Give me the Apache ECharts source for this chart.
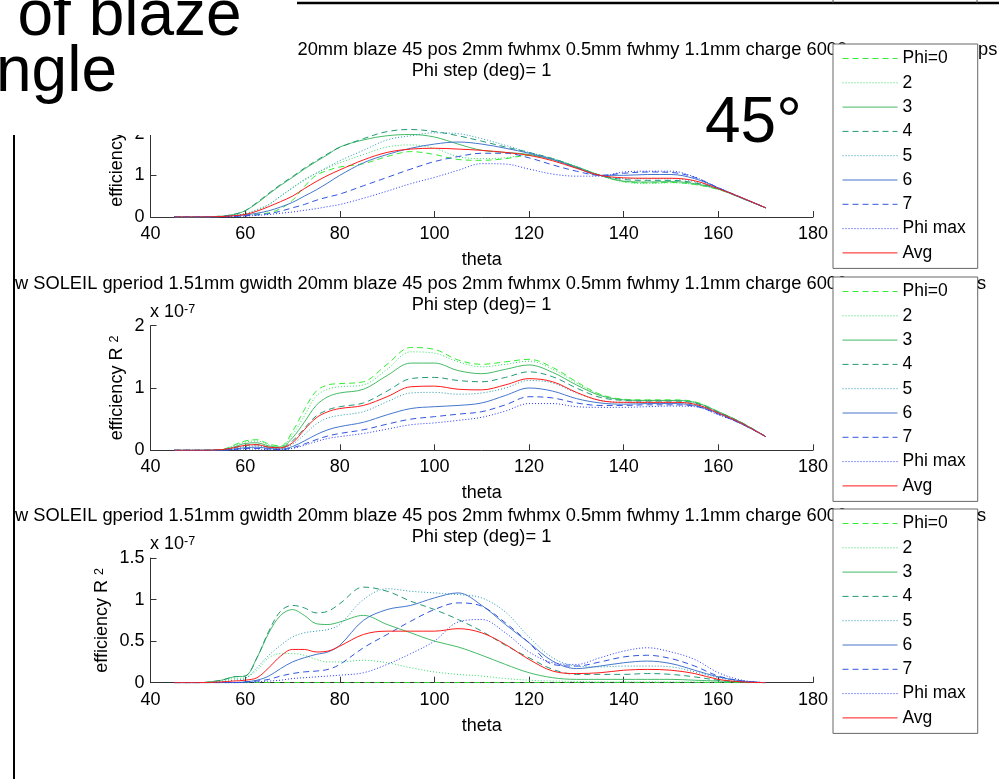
<!DOCTYPE html>
<html><head><meta charset="utf-8">
<script src="https://cdn.jsdelivr.net/npm/echarts@6/dist/echarts.min.js"></script>
<style>html,body{margin:0;padding:0;background:#fff}#c{width:999px;height:779px}</style>
</head><body><div id="c"></div>
<script>
// ---------- data ----------
const theta = [45,50,55,57.5,60,62.5,65,67.5,70,72.5,75,77.5,80,85,90,95,100,105,110,115,120,125,130,135,140,145,150,155,160,165,170];
const seriesNames = ['Phi=0','2','3','4','5','6','7','Phi max','Avg'];
const xTickMin = 40, xTickMax = 180, xTickStep = 20;
const yMaxes = [3, 2, 1.5];
const ySteps = [1, 1, 0.5];

// plot 1 (efficiency, x 1e-7)
const p1_phi0 = [0,0,0.01,0.03,0.05,0.07,0.1,0.2,0.4,0.73,1.0,1.12,1.2,1.28,1.45,1.57,1.5,1.38,1.36,1.4,1.48,1.38,1.2,1.0,0.85,0.82,0.83,0.78,0.66,0.45,0.22];
const p1_2    = [0,0,0.01,0.04,0.08,0.15,0.3,0.5,0.7,0.9,1.05,1.18,1.3,1.5,1.68,1.73,1.65,1.45,1.4,1.42,1.5,1.4,1.22,1.0,0.84,0.8,0.82,0.78,0.66,0.45,0.22];
const p1_3    = [0,0,0.02,0.06,0.15,0.33,0.55,0.76,0.95,1.15,1.33,1.5,1.68,1.85,1.95,1.98,1.92,1.75,1.6,1.55,1.5,1.38,1.2,1.0,0.86,0.84,0.85,0.8,0.67,0.45,0.22];
const p1_4    = [0,0,0.02,0.06,0.15,0.35,0.57,0.78,0.97,1.17,1.35,1.52,1.67,1.88,2.05,2.1,2.05,1.95,1.82,1.68,1.55,1.4,1.2,1.0,0.9,0.88,0.88,0.82,0.68,0.45,0.22];
const p1_5    = [0,0,0.01,0.04,0.08,0.18,0.3,0.5,0.7,0.88,1.05,1.2,1.35,1.6,1.85,1.95,2.02,2.0,1.88,1.72,1.55,1.4,1.2,1.0,0.92,0.92,0.92,0.85,0.68,0.45,0.22];
const p1_6    = [0,0,0.01,0.03,0.05,0.09,0.15,0.24,0.35,0.5,0.65,0.82,1.0,1.3,1.5,1.65,1.75,1.8,1.75,1.65,1.53,1.38,1.18,1.0,1.0,1.02,1.02,0.92,0.7,0.46,0.22];
const p1_7    = [0,0,0,0.01,0.03,0.05,0.08,0.14,0.22,0.3,0.4,0.48,0.55,0.75,0.95,1.15,1.33,1.45,1.53,1.53,1.42,1.25,1.1,1.0,1.05,1.08,1.07,0.95,0.7,0.46,0.22];
const p1_max  = [0,0,0,0.01,0.02,0.04,0.06,0.09,0.12,0.16,0.2,0.25,0.3,0.45,0.62,0.8,0.95,1.12,1.28,1.27,1.15,1.03,0.98,0.98,1.08,1.1,1.1,0.96,0.7,0.46,0.22];
const p1_avg  = [0,0,0.01,0.03,0.06,0.14,0.25,0.37,0.5,0.68,0.85,1.0,1.13,1.37,1.55,1.63,1.65,1.63,1.6,1.55,1.48,1.35,1.17,1.0,0.94,0.93,0.93,0.87,0.68,0.46,0.22];

// plot 2
const p2_phi0 = [0,0,0.01,0.08,0.15,0.17,0.1,0.07,0.3,0.65,0.95,1.05,1.07,1.1,1.38,1.65,1.62,1.45,1.38,1.42,1.46,1.33,1.1,0.9,0.82,0.81,0.81,0.78,0.62,0.44,0.22];
const p2_2    = [0,0,0.01,0.07,0.13,0.15,0.09,0.06,0.25,0.55,0.87,0.98,1.02,1.05,1.3,1.58,1.56,1.42,1.34,1.38,1.43,1.3,1.08,0.89,0.81,0.8,0.8,0.77,0.62,0.44,0.22];
const p2_3    = [0,0,0.01,0.05,0.11,0.12,0.07,0.05,0.2,0.45,0.72,0.86,0.92,0.98,1.2,1.4,1.4,1.28,1.23,1.3,1.37,1.25,1.05,0.88,0.81,0.8,0.8,0.77,0.62,0.44,0.22];
const p2_4    = [0,0,0.01,0.04,0.08,0.09,0.05,0.04,0.15,0.35,0.55,0.65,0.7,0.76,0.95,1.15,1.17,1.12,1.1,1.17,1.26,1.18,1.0,0.85,0.8,0.79,0.79,0.76,0.61,0.44,0.22];
const p2_5    = [0,0,0,0.03,0.06,0.07,0.04,0.03,0.1,0.25,0.42,0.52,0.56,0.62,0.78,0.92,0.93,0.9,0.92,1.0,1.12,1.08,0.92,0.8,0.77,0.77,0.77,0.74,0.6,0.43,0.22];
const p2_6    = [0,0,0,0.02,0.04,0.05,0.03,0.02,0.06,0.15,0.25,0.33,0.38,0.45,0.57,0.67,0.7,0.72,0.76,0.88,1.0,0.95,0.83,0.76,0.74,0.75,0.75,0.72,0.59,0.42,0.22];
const p2_7    = [0,0,0,0.01,0.03,0.03,0.02,0.01,0.04,0.1,0.17,0.23,0.27,0.33,0.42,0.5,0.54,0.58,0.62,0.73,0.86,0.84,0.76,0.72,0.72,0.73,0.73,0.71,0.58,0.42,0.22];
const p2_max  = [0,0,0,0.01,0.02,0.02,0.01,0.01,0.03,0.08,0.14,0.19,0.22,0.27,0.34,0.41,0.44,0.48,0.53,0.63,0.75,0.75,0.7,0.69,0.69,0.7,0.71,0.7,0.57,0.42,0.22];
const p2_avg  = [0,0,0.01,0.04,0.08,0.09,0.05,0.04,0.12,0.33,0.52,0.62,0.67,0.72,0.86,1.02,1.03,0.98,0.97,1.05,1.15,1.1,0.93,0.8,0.77,0.77,0.77,0.74,0.6,0.43,0.22];

// plot 3
const p3_phi0 = [0,0,0,0,0,0,0,0,0,0,0,0,0,0,0,0,0,0,0,0,0,0,0,0,0,0,0,0,0,0,0];
const p3_2    = [0,0,0.02,0.05,0.06,0.15,0.3,0.35,0.35,0.33,0.28,0.25,0.25,0.27,0.24,0.18,0.13,0.1,0.08,0.05,0.03,0.02,0.015,0.01,0.01,0.01,0.01,0.01,0.005,0,0];
const p3_3    = [0,0,0.03,0.07,0.08,0.3,0.6,0.81,0.88,0.81,0.71,0.7,0.73,0.81,0.7,0.6,0.5,0.43,0.33,0.22,0.12,0.06,0.04,0.04,0.04,0.04,0.04,0.03,0.02,0.01,0];
const p3_4    = [0,0,0.03,0.07,0.08,0.3,0.62,0.86,0.93,0.9,0.84,0.86,0.95,1.15,1.1,0.98,0.88,0.76,0.62,0.45,0.3,0.16,0.1,0.1,0.1,0.11,0.1,0.07,0.03,0.01,0];
const p3_5    = [0,0,0.01,0.03,0.05,0.18,0.33,0.45,0.55,0.6,0.62,0.64,0.7,1.0,1.13,1.1,1.08,1.06,1.02,0.85,0.55,0.3,0.2,0.19,0.2,0.2,0.19,0.13,0.06,0.02,0];
const p3_6    = [0,0,0,0,0.01,0.03,0.08,0.17,0.25,0.3,0.34,0.37,0.45,0.75,0.88,0.93,1.02,1.08,0.93,0.7,0.48,0.26,0.17,0.2,0.24,0.26,0.23,0.15,0.07,0.02,0];
const p3_7    = [0,0,0,0,0.01,0.02,0.04,0.08,0.11,0.13,0.14,0.16,0.22,0.42,0.58,0.74,0.88,0.96,0.92,0.72,0.48,0.22,0.2,0.25,0.31,0.33,0.29,0.2,0.08,0.02,0];
const p3_max  = [0,0,0,0,0,0.01,0.02,0.03,0.05,0.06,0.07,0.08,0.09,0.12,0.22,0.35,0.5,0.73,0.76,0.6,0.37,0.24,0.22,0.3,0.38,0.42,0.37,0.28,0.12,0.03,0];
const p3_avg  = [0,0,0.01,0.02,0.03,0.06,0.18,0.32,0.4,0.4,0.37,0.38,0.44,0.58,0.62,0.62,0.62,0.65,0.6,0.46,0.28,0.14,0.11,0.12,0.15,0.16,0.15,0.11,0.04,0.01,0];

const plots = [
  [p1_phi0,p1_2,p1_3,p1_4,p1_5,p1_6,p1_7,p1_max,p1_avg],
  [p2_phi0,p2_2,p2_3,p2_4,p2_5,p2_6,p2_7,p2_max,p2_avg],
  [p3_phi0,p3_2,p3_3,p3_4,p3_5,p3_6,p3_7,p3_max,p3_avg]
];

const titleMain = 'w SOLEIL gperiod 1.51mm gwidth 20mm blaze 45 pos 2mm fwhmx 0.5mm fwhmy 1.1mm charge 6000';
const titleSub = 'Phi step (deg)= 1';
const titleTails = ['ps', 's', 's'];
const slideLine1 = 'of blaze';
const slideLine2 = 'ngle';
const slideAngle = '45°';

// ---------- styles / layout ----------
const FONT = 'Liberation Sans, Arial, Helvetica, sans-serif';
const DASH = [6, 4], DOT = [1, 2];
const styles = [
  {c:'#33ee33', t:DASH},
  {c:'#33dd66', t:DOT},
  {c:'#44bb66', t:'solid'},
  {c:'#229977', t:DASH},
  {c:'#2299aa', t:DOT},
  {c:'#4477cc', t:'solid'},
  {c:'#3355dd', t:DASH},
  {c:'#2233ff', t:DOT},
  {c:'#ff1a1a', t:'solid'}
];
const gridTops = [92, 325.7, 558];
const gridHeights = [125, 124.6, 124.7];
const legendTops = [44, 277, 509];
const yNameGaps = [24, 24, 39];
const AX = '#333';

const option = {
  animation: false,
  backgroundColor: '#fff',
  title: [], grid: [], xAxis: [], yAxis: [], legend: [], series: [], graphic: []
};

const legendData = seriesNames.map((n, k) => ({
  name: n,
  lineStyle: {color: styles[k].c, type: styles[k].t, width: 1, opacity: 1},
  itemStyle: {opacity: 0}
}));

for (let p = 0; p < 3; p++) {
  const top = gridTops[p];
  option.grid.push({left: 150.5, width: 662.5, top: top, height: gridHeights[p], containLabel: false});
  option.title.push({text: titleMain, left: 15, top: top - 51, padding: 0,
    textStyle: {fontSize: 18.3, fontWeight: 'normal', color: '#000', fontFamily: FONT}});
  option.title.push({text: titleSub, left: 481.5, top: top - 30, padding: 0, textAlign: 'center',
    textStyle: {fontSize: 18.3, fontWeight: 'normal', color: '#000', fontFamily: FONT}});
  option.xAxis.push({
    gridIndex: p, type: 'value', min: xTickMin, max: xTickMax, interval: xTickStep,
    axisLine: {show: true, onZero: false, lineStyle: {color: AX, width: 1}},
    axisTick: {show: true, inside: true, length: 6, lineStyle: {color: AX}},
    axisLabel: {color: '#000', fontSize: 18, fontFamily: FONT, margin: 8},
    splitLine: {show: false},
    name: 'theta', nameLocation: 'middle', nameGap: 34, nameMoveOverlap: false,
    nameTextStyle: {color: '#000', fontSize: 18, fontFamily: FONT}
  });
  option.yAxis.push({
    gridIndex: p, type: 'value', min: 0, max: yMaxes[p], interval: ySteps[p],
    axisLine: {show: true, onZero: false, lineStyle: {color: AX, width: 1}},
    axisTick: {show: true, inside: true, length: 6, lineStyle: {color: AX}},
    axisLabel: {color: '#000', fontSize: 18, fontFamily: FONT, margin: 6},
    splitLine: {show: false},
    name: '{m|efficiency R }{s|2}', nameLocation: 'middle', nameGap: yNameGaps[p], nameMoveOverlap: false,
    nameTextStyle: {color: '#000', rich: {
      m: {fontSize: 18, lineHeight: 18, verticalAlign: 'bottom', fontFamily: FONT, color: '#000'},
      s: {fontSize: 12.5, lineHeight: 12, padding: [0, 0, 14, 0], verticalAlign: 'top', fontFamily: FONT, color: '#000'}
    }}
  });
  option.legend.push({
    orient: 'vertical', left: 833, top: legendTops[p], data: legendData,
    itemWidth: 55, itemHeight: 18, itemGap: 6.3, padding: [5.5, 12, 6.5, 9],
    backgroundColor: '#fff', borderColor: '#666', borderWidth: 1, borderRadius: 0,
    selectedMode: false, z: 10,
    itemStyle: {opacity: 0},
    textStyle: {fontSize: 17.5, color: '#000', fontFamily: FONT}
  });
  plots[p].forEach((arr, k) => {
    option.series.push({
      type: 'line', name: seriesNames[k], xAxisIndex: p, yAxisIndex: p,
      data: theta.map((t, i) => [t, arr[i]]),
      symbol: 'none', smooth: 0.35,
      lineStyle: {color: styles[k].c, width: 1, type: styles[k].t},
      itemStyle: {color: styles[k].c}
    });
  });
  // x 10^-7 multiplier
  option.graphic.push({type: 'text', x: 150, y: top - 5, z: 50, style: {
    text: '{a|x 10}{b|-7}', align: 'left', verticalAlign: 'bottom',
    rich: {
      a: {fontSize: 18, lineHeight: 18, verticalAlign: 'bottom', fontFamily: FONT, fill: '#000'},
      b: {fontSize: 12.5, lineHeight: 12, padding: [0, 0, 14, 0], verticalAlign: 'top', fontFamily: FONT, fill: '#000'}
    }}});
  // title tail visible right of the legend
  option.graphic.push({type: 'text', x: p === 0 ? 978 : 977, y: top - 42, z: 50, style: {
    text: titleTails[p], align: 'left', verticalAlign: 'middle', font: '18.3px ' + FONT, fill: '#000'}});
}

// slide decorations
option.graphic.push(
  {type: 'rect', z: 100, shape: {x: 0, y: 0, width: 297, height: 135}, style: {fill: '#fff'}},
  {type: 'rect', z: 100, shape: {x: 0, y: 135, width: 13, height: 644}, style: {fill: '#fff'}},
  {type: 'line', z: 101, shape: {x1: 14, y1: 135, x2: 14, y2: 779}, style: {stroke: '#000', lineWidth: 2}},
  {type: 'line', z: 101, shape: {x1: 297, y1: 3, x2: 999, y2: 3}, style: {stroke: '#000', lineWidth: 2.5}},
  {type: 'line', z: 101, shape: {x1: 833, y1: 0, x2: 833, y2: 3}, style: {stroke: '#555', lineWidth: 1}},
  {type: 'line', z: 101, shape: {x1: 977, y1: 0, x2: 977, y2: 3}, style: {stroke: '#555', lineWidth: 1}},
  {type: 'text', z: 102, x: 17.5, y: -15, style: {text: slideLine1, font: '64px ' + FONT, fill: '#000', align: 'left', verticalAlign: 'top'}},
  {type: 'text', z: 102, x: -4, y: 41, style: {text: slideLine2, font: '64px ' + FONT, fill: '#000', align: 'left', verticalAlign: 'top'}},
  {type: 'text', z: 102, x: 705, y: 92, style: {text: slideAngle, font: '64px ' + FONT, fill: '#000', align: 'left', verticalAlign: 'top'}}
);

const chart = echarts.init(document.getElementById('c'), null, {renderer: 'canvas'});
chart.setOption(option);
</script>
</body></html>
